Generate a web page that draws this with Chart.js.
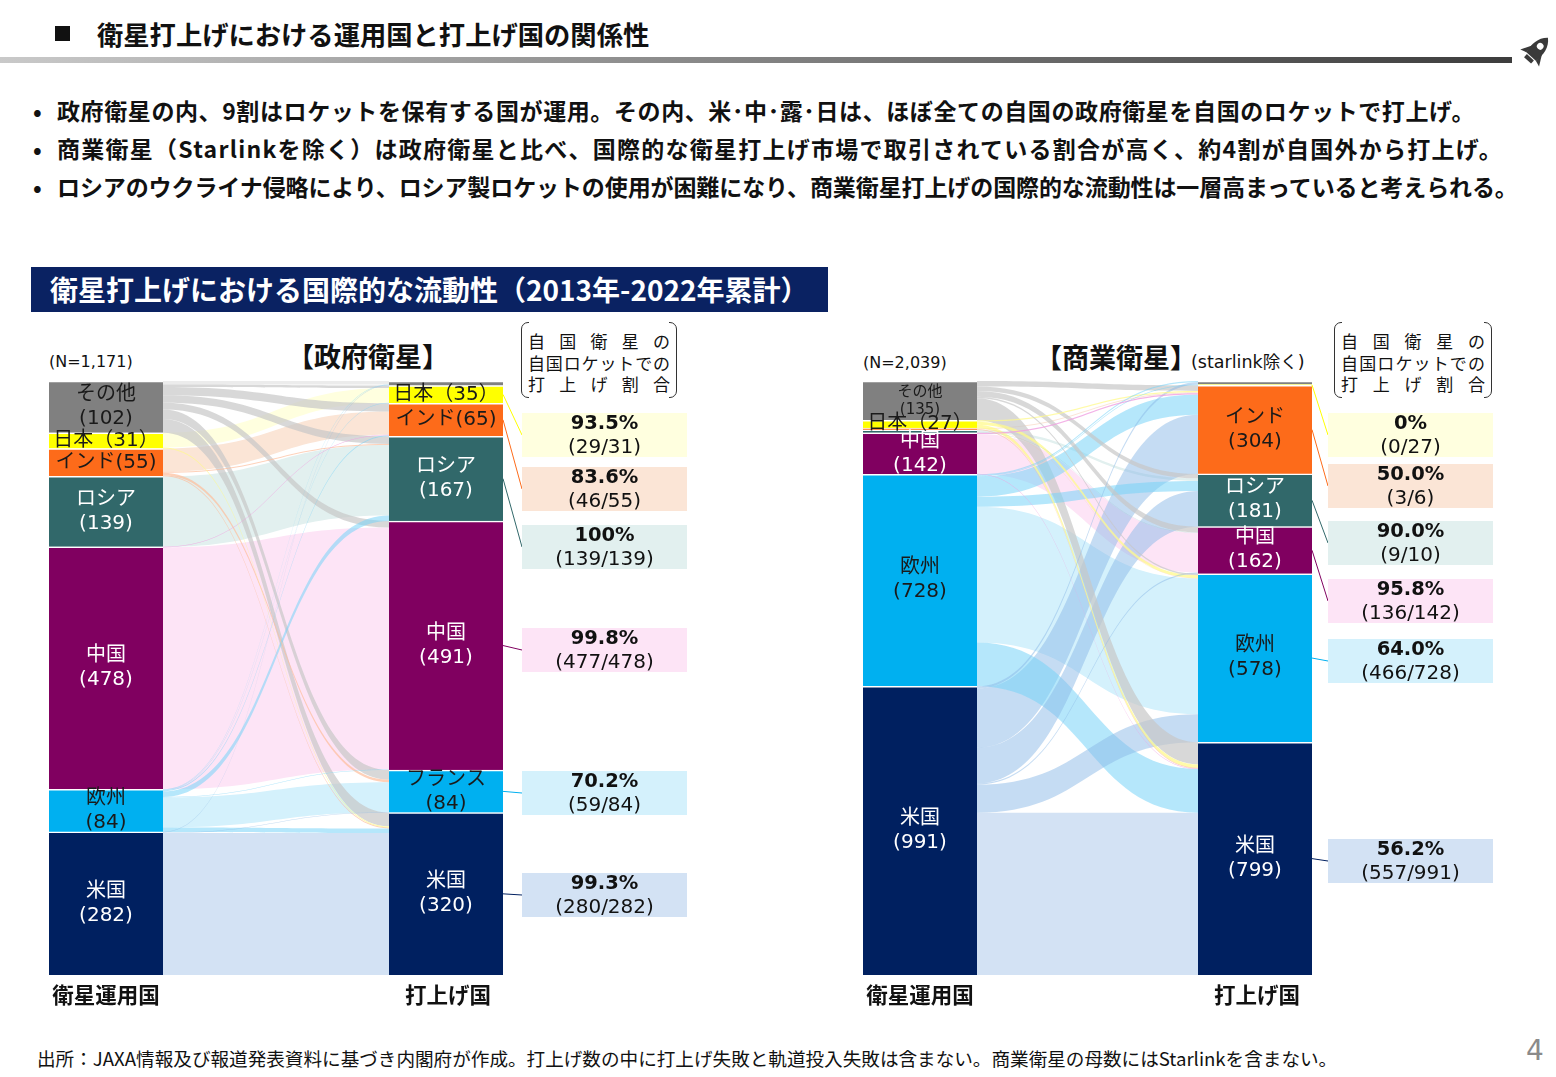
<!DOCTYPE html>
<html lang="ja">
<head>
<meta charset="utf-8">
<script src="https://cdn.jsdelivr.net/npm/chart.js@4.4.1/dist/chart.umd.min.js"></script>
<style>
  body { margin: 0; width: 1556px; height: 1077px; position: relative; overflow: hidden; background: #fff;
         font-family: "Noto Sans CJK JP", "Noto Sans", sans-serif; color: #111; }
  .abs { position: absolute; }
  #sq { left: 55px; top: 26px; width: 15px; height: 15px; background: #111; }
  #title { left: 97px; top: 16px; font-size: 26.3px; line-height: 36px; font-weight: bold; }
  #rule { left: 0; top: 57px; width: 1512px; height: 6px; background: linear-gradient(to right, #c9c9c9, #3d3d3d); }
  .bullet { left: 33px; font-size: 23px; line-height: 38px; font-weight: bold; white-space: nowrap; }
  .bullet span { display: inline-block; width: 24px; letter-spacing: 0; }
  #secHead { left: 31px; top: 267px; width: 797px; height: 45px; background: #0a2262; color: #fff;
             font-size: 28px; font-weight: bold; line-height: 45px; padding-left: 19px; box-sizing: border-box; white-space: nowrap; }
  .nlabel { font-family: "DejaVu Sans", sans-serif; font-size: 16px; line-height: 20px; }
  .ptitle { font-size: 27px; font-weight: bold; line-height: 34px; white-space: nowrap; }
  .ptitle small { font-family: "DejaVu Sans", "Noto Sans CJK JP", sans-serif; font-size: 17.5px; font-weight: normal; margin-left: -6px; }
  .bracket { top: 322px; height: 76px; border: 1.5px solid #333; border-radius: 7px; box-sizing: border-box; }
  .bracket::before { content: ""; position: absolute; left: 7px; right: 7px; top: -3px; bottom: -3px; background: #fff; }
  .bracket div { position: relative; margin: 0 6px; font-size: 17px; line-height: 21.5px; text-align: justify; text-align-last: justify; }
  .bracket .first { margin-top: 7px; }
  canvas { position: absolute; }
  #foot { left: 37px; top: 1046px; font-size: 18.6px; line-height: 24px; white-space: nowrap; }
  #page { left: 1526px; top: 1034px; font-size: 28px; line-height: 34px; color: #8a8a8a; font-family: "DejaVu Sans", sans-serif; }
</style>
</head>
<body>
<div class="abs" id="sq"></div>
<div class="abs" id="title">衛星打上げにおける運用国と打上げ国の関係性</div>
<div class="abs" id="rule"></div>
<svg class="abs" style="left:1515px;top:30px" width="42" height="42" viewBox="0 0 40 40">
  <g transform="rotate(42 20 20)" fill="#3a3a3a">
    <path d="M20 3 C27 9 28 18 26 27 L14 27 C12 18 13 9 20 3 Z"/>
    <path d="M14 18 L8 29 L14 27 Z"/>
    <path d="M26 18 L32 29 L26 27 Z"/>
    <rect x="15.5" y="28" width="9" height="4"/>
    <circle cx="20" cy="14" r="3.2" fill="#fff"/>
  </g>
</svg>

<div class="abs bullet" style="top:91px;letter-spacing:0.6px"><span>•</span>政府衛星の内、9割はロケットを保有する国が運用。その内、米･中･露･日は、ほぼ全ての自国の政府衛星を自国のロケットで打上げ。</div>
<div class="abs bullet" style="top:129px;letter-spacing:1.25px"><span>•</span>商業衛星（Starlinkを除く）は政府衛星と比べ、国際的な衛星打上げ市場で取引されている割合が高く、約4割が自国外から打上げ。</div>
<div class="abs bullet" style="top:167px;letter-spacing:-0.1px"><span>•</span>ロシアのウクライナ侵略により、ロシア製ロケットの使用が困難になり、商業衛星打上げの国際的な流動性は一層高まっていると考えられる。</div>

<div class="abs" id="secHead">衛星打上げにおける国際的な流動性（2013年-2022年累計）</div>

<div class="abs nlabel" style="left:49px;top:352px">(N=1,171)</div>
<div class="abs ptitle" style="left:287px;top:339px">【政府衛星】</div>
<div class="abs bracket" style="left:521px;width:156px">
  <div class="first">自国衛星の</div><div>自国ロケットでの</div><div>打上げ割合</div>
</div>

<div class="abs nlabel" style="left:863px;top:353px">(N=2,039)</div>
<div class="abs ptitle" style="left:1035px;top:340px">【商業衛星】<small>(starlink除く)</small></div>
<div class="abs bracket" style="left:1334px;width:158px">
  <div class="first">自国衛星の</div><div>自国ロケットでの</div><div>打上げ割合</div>
</div>

<canvas id="govChart" width="670" height="700" style="left:30px;top:320px"></canvas>
<canvas id="comChart" width="700" height="700" style="left:850px;top:320px"></canvas>

<div class="abs" id="foot">出所：JAXA情報及び報道発表資料に基づき内閣府が作成。打上げ数の中に打上げ失敗と軌道投入失敗は含まない。商業衛星の母数にはStarlinkを含まない。</div>
<div class="abs" id="page">4</div>

<script>
// 積み上げ順（下から上）
const nodeNames = ['米国', '欧州', '中国', 'ロシア', 'インド', '日本', 'その他'];
const govLaunchNames = ['米国', 'フランス', '中国', 'ロシア', 'インド', '日本', 'その他'];
const comLaunchNames = ['米国', '欧州', '中国', 'ロシア', 'インド', '日本', 'その他'];
const columnLabels = ['衛星運用国', '打上げ国'];

// 政府衛星
const govOperators = [282, 84, 478, 139, 55, 31, 102];
const govLaunchers = [320, 84, 491, 167, 65, 35, 9];
// 運用国(行) -> 打上げ国(列)
const govFlows = [
    [280, 1, 0, 0, 0, 0, 1],
    [9, 59, 1, 11, 2, 1, 1],
    [0, 0, 477, 0, 1, 0, 0],
    [0, 0, 0, 139, 0, 0, 0],
    [2, 5, 0, 2, 46, 0, 0],
    [2, 0, 0, 0, 0, 29, 0],
    [27, 19, 13, 15, 16, 5, 7]
];

// 商業衛星（starlink除く）
const comOperators = [991, 728, 142, 10, 6, 27, 135];
const comLaunchers = [799, 578, 162, 181, 304, 3, 12];
const comFlows = [
    [557, 96, 5, 122, 203, 0, 8],
    [150, 466, 0, 35, 70, 3, 4],
    [2, 0, 136, 0, 4, 0, 0],
    [0, 0, 1, 9, 0, 0, 0],
    [2, 1, 0, 0, 3, 0, 0],
    [12, 10, 0, 0, 5, 0, 0],
    [76, 5, 20, 15, 19, 0, 0]
];

// 見た目
const barColors = ['#002060', '#00b0f0', '#800060', '#31686a', '#fd6b1a', '#ffff00', '#808080'];
const tintColors = ['#d3e2f4', '#d4f1fc', '#fde4f6', '#e2f0ef', '#fbe5d6', '#ffffdf', '#ececec'];
const flowColors = ['rgba(140,185,232,0.5)', 'rgba(120,212,248,0.55)', 'rgba(240,160,225,0.8)',
    'rgba(140,190,190,0.6)', 'rgba(253,190,155,0.7)', 'rgba(255,250,140,0.75)', 'rgba(200,200,200,0.7)'];
const darkLabel = [false, true, false, false, true, true, true];

function fmtShare(a, b) {
    const r = a / b;
    if (r === 0 || r === 1) return Math.round(r * 100) + '%';
    return (r * 100).toFixed(1) + '%';
}

function ribbon(c, x0, x1, a0, a1, b0, b1) {
    const xm = (x0 + x1) / 2;
    c.beginPath();
    c.moveTo(x0, a0);
    c.bezierCurveTo(xm, a0, xm, b0, x1, b0);
    c.lineTo(x1, b1);
    c.bezierCurveTo(xm, b1, xm, a1, x0, a1);
    c.closePath();
    c.fill();
}

function nodeEls(chart) {
    const left = [], right = [];
    nodeNames.forEach((n, i) => {
        const m = chart.getDatasetMeta(i);
        left.push(m.data[0]);
        right.push(m.data[1]);
    });
    return { left, right };
}

const sankeyPlugin = {
    id: 'sankey',
    beforeDatasetsDraw(chart, args, o) {
        const c = chart.ctx;
        const { left, right } = nodeEls(chart);
        const n = nodeNames.length;
        const k = chart.scales.y.getPixelForValue(0) - chart.scales.y.getPixelForValue(1);
        const x0 = left[0].x + left[0].width / 2;
        const x1 = right[0].x - right[0].width / 2;
        const start = [], end = [];
        for (let i = 0; i < n; i++) {
            start.push([]);
            let cur = left[i].y;
            for (let j = n - 1; j >= 0; j--) {
                const t = o.flows[i][j] * k;
                start[i][j] = [cur, cur + t];
                cur += t;
            }
        }
        for (let j = 0; j < n; j++) {
            let cur = right[j].y;
            for (let i = n - 1; i >= 0; i--) {
                const t = o.flows[i][j] * k;
                end[i] = end[i] || [];
                end[i][j] = [cur, cur + t];
                cur += t;
            }
        }
        c.save();
        // 自国打上げ
        for (let i = 0; i < n; i++) {
            if (!o.flows[i][i]) continue;
            c.fillStyle = tintColors[i];
            ribbon(c, x0, x1, start[i][i][0], start[i][i][1], end[i][i][0], end[i][i][1]);
        }
        // 他国打上げ
        const cross = [];
        for (let i = 0; i < n; i++)
            for (let j = 0; j < n; j++)
                if (i !== j && o.flows[i][j] > 0) cross.push([i, j]);
        cross.sort((a, b) => o.flows[b[0]][b[1]] - o.flows[a[0]][a[1]]);
        cross.forEach(([i, j]) => {
            c.fillStyle = flowColors[i];
            ribbon(c, x0, x1, start[i][j][0], start[i][j][1], end[i][j][0], end[i][j][1]);
        });
        c.restore();
    },
    afterDatasetsDraw(chart, args, o) {
        const c = chart.ctx;
        const { left, right } = nodeEls(chart);
        c.save();
        c.textAlign = 'center';
        c.textBaseline = 'middle';
        const drawLabel = (el, name, v, mode, i) => {
            if (mode === 'none') return;
            const cy = (el.y + el.base) / 2;
            c.fillStyle = darkLabel[i] ? '#1a1a1a' : '#ffffff';
            if (mode === 'one' || mode === 'wide') {
                c.font = '20px "DejaVu Sans", "Noto Sans CJK JP"';
                c.fillText(mode === 'one' ? name + '(' + v + ')' : name + '（' + v + '）', el.x, cy);
            } else {
                const small = mode === 'small';
                c.font = (small ? '15px' : '20px') + ' "DejaVu Sans", "Noto Sans CJK JP"';
                const h = small ? 9 : 12;
                c.fillText(name, el.x, cy - h);
                c.fillText('(' + v + ')', el.x, cy + h);
            }
        };
        nodeNames.forEach((n, i) => {
            drawLabel(left[i], n, o.operators[i], o.leftLabels[i], i);
            drawLabel(right[i], o.launchNames[i], o.launchers[i], o.rightLabels[i], i);
        });

        // 自国ロケットでの打上げ割合
        const bx = right[0].x + right[0].width / 2;
        o.boxY.forEach((by, i) => {
            const el = right[i];
            const left0 = bx + o.boxGap;
            c.strokeStyle = barColors[i];
            c.lineWidth = 1;
            c.beginPath();
            c.moveTo(bx, (el.y + el.base) / 2);
            c.lineTo(left0, by);
            c.stroke();
            c.fillStyle = tintColors[i];
            c.fillRect(left0, by - 22, o.boxW, 44);
            c.fillStyle = '#111';
            c.font = 'bold 19.5px "DejaVu Sans"';
            c.fillText(fmtShare(o.flows[i][i], o.operators[i]), left0 + o.boxW / 2, by - 11);
            c.font = '20px "DejaVu Sans"';
            c.fillText('(' + o.flows[i][i] + '/' + o.operators[i] + ')', left0 + o.boxW / 2, by + 13);
        });

        // 列ラベル
        c.fillStyle = '#111';
        c.font = 'bold 21.5px "Noto Sans CJK JP"';
        c.fillText(columnLabels[0], left[0].x, chart.chartArea.bottom + 20);
        c.fillText(columnLabels[1], right[0].x + 2, chart.chartArea.bottom + 20);
        c.restore();
    }
};

function makePanel(id, operators, launchers, flows, launchNames, cfg) {
    const total = operators.reduce((a, b) => a + b, 0);
    return new Chart(document.getElementById(id), {
        type: 'bar',
        data: {
            labels: columnLabels,
            datasets: nodeNames.map((n, i) => ({
                label: n,
                data: [operators[i], launchers[i]],
                backgroundColor: barColors[i],
                borderColor: '#ffffff',
                borderWidth: { top: 1.5, bottom: 0, left: 0, right: 0 },
                borderSkipped: false,
                barThickness: 114,
                clip: false
            }))
        },
        options: {
            responsive: false,
            animation: false,
            layout: { padding: cfg.padding },
            plugins: {
                legend: { display: false },
                tooltip: { enabled: false },
                sankey: {
                    operators, launchers, flows, launchNames,
                    leftLabels: cfg.leftLabels, rightLabels: cfg.rightLabels,
                    boxY: cfg.boxY, boxGap: cfg.boxGap, boxW: cfg.boxW
                }
            },
            scales: {
                x: { stacked: true, offset: false, display: false },
                y: { stacked: true, display: false, min: 0, max: total }
            }
        },
        plugins: [sankeyPlugin]
    });
}

makePanel('govChart', govOperators, govLaunchers, govFlows, govLaunchNames, {
    padding: { left: 76, right: 254, top: 61, bottom: 45 },
    leftLabels: ['two', 'two', 'two', 'two', 'one', 'wide', 'two'],
    rightLabels: ['two', 'two', 'two', 'two', 'one', 'wide', 'none'],
    boxY: [895, 793, 650, 547, 489, 435].map(v => v - 320),
    boxGap: 19, boxW: 165
});

makePanel('comChart', comOperators, comLaunchers, comFlows, comLaunchNames, {
    padding: { left: 70, right: 295, top: 61, bottom: 45 },
    leftLabels: ['two', 'two', 'two', 'none', 'none', 'wide', 'small'],
    rightLabels: ['two', 'two', 'two', 'two', 'two', 'none', 'none'],
    boxY: [861, 661, 601, 543, 486, 435].map(v => v - 320),
    boxGap: 16, boxW: 165
});
</script>
</body>
</html>
